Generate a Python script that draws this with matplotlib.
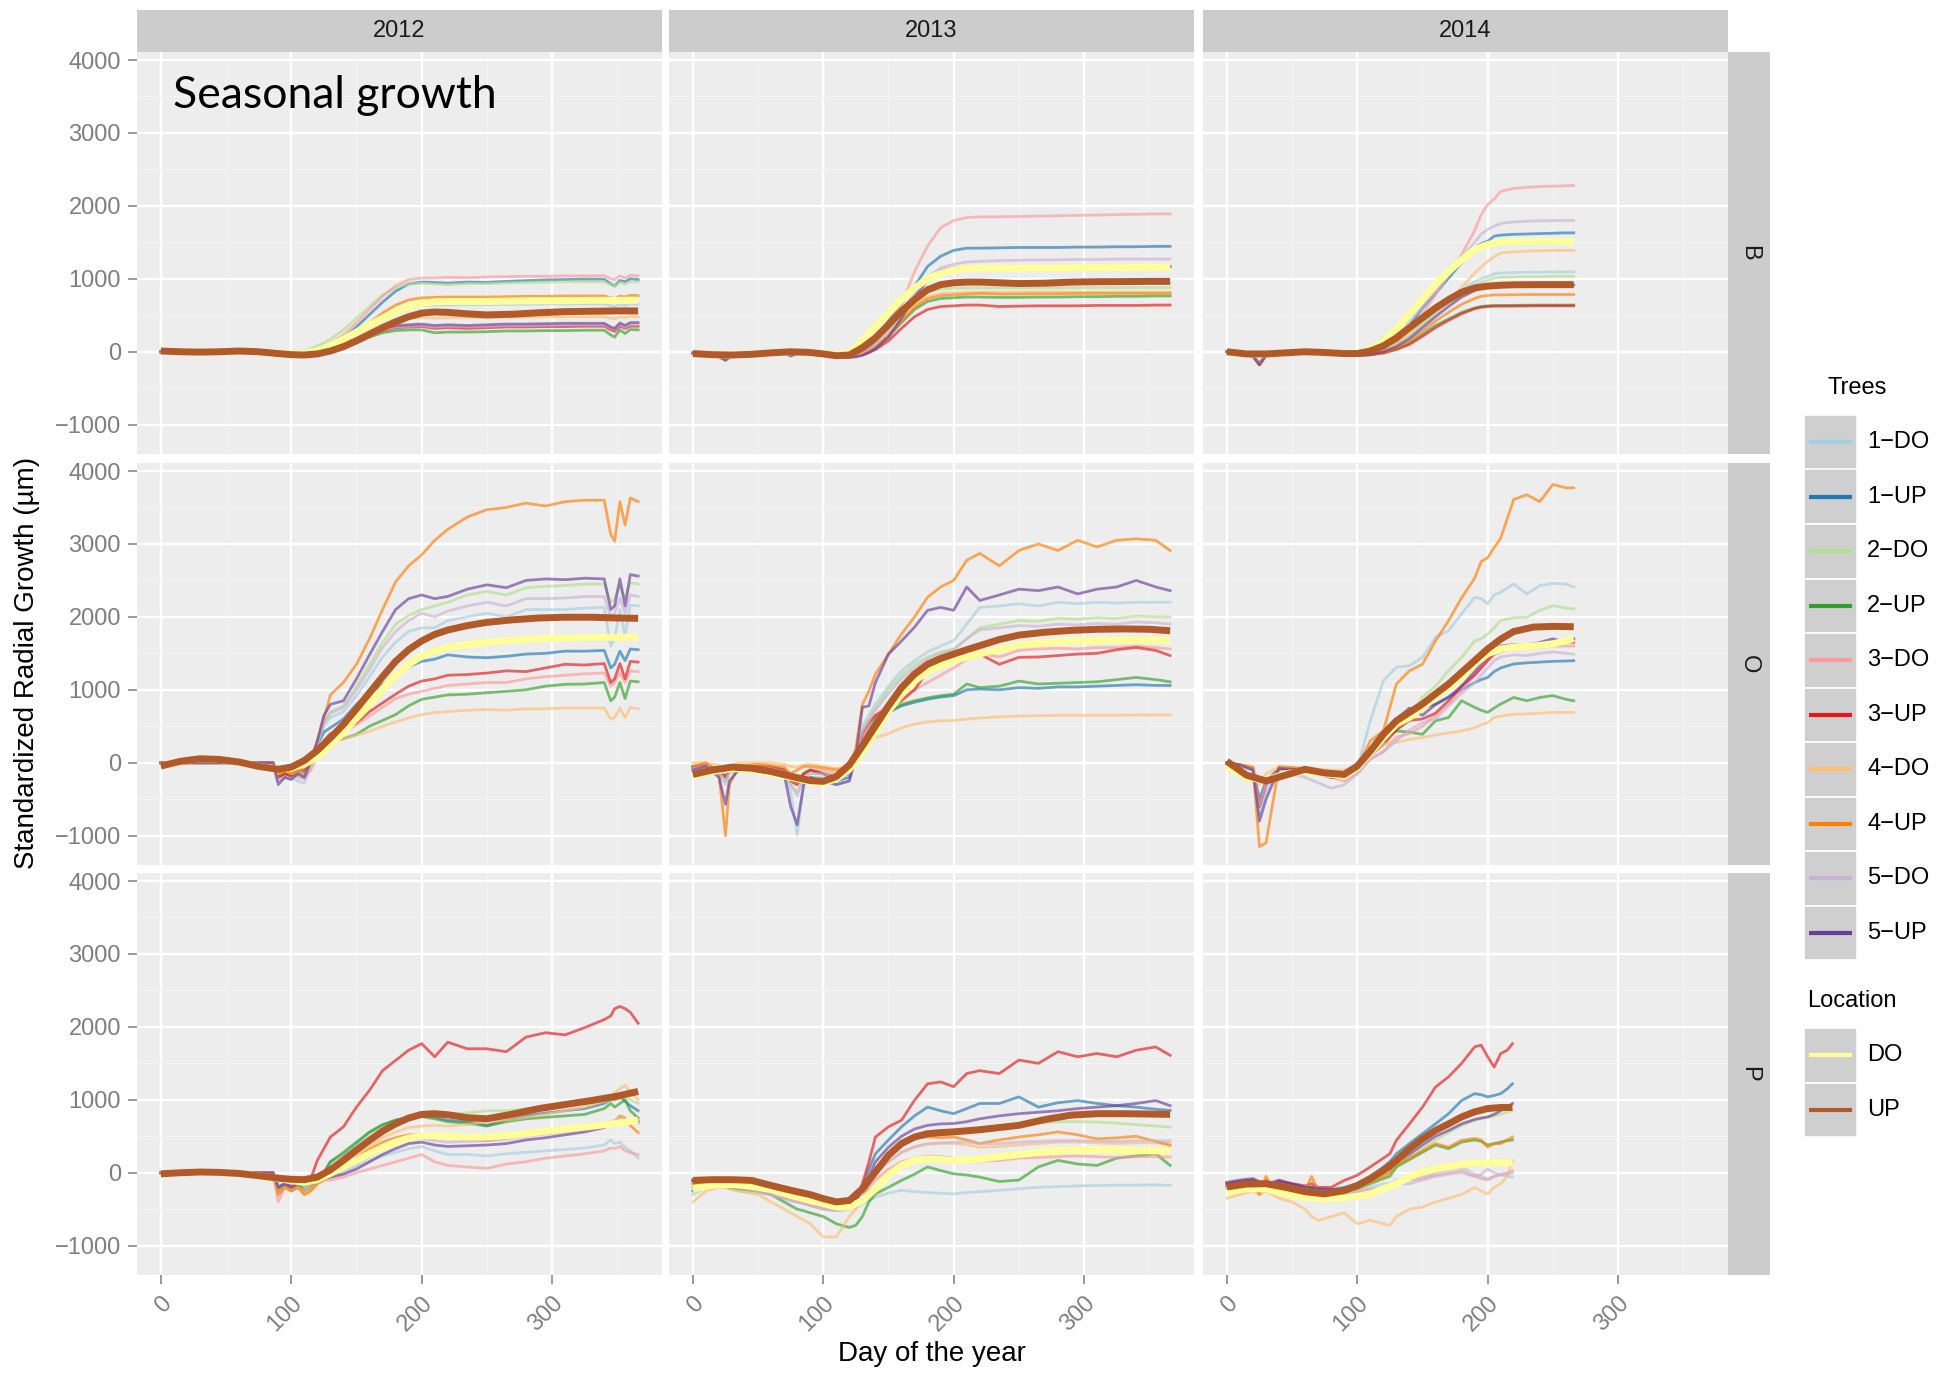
import matplotlib
matplotlib.use("Agg")
import matplotlib.pyplot as plt
from matplotlib.patches import Rectangle
from matplotlib.lines import Line2D

# ---------------------------------------------------------------- categories
years = ["2012", "2013", "2014"]
sites = ["B", "O", "P"]
tree_labels = ["1-DO", "1-UP", "2-DO", "2-UP", "3-DO", "3-UP", "4-DO", "4-UP", "5-DO", "5-UP"]
tree_colors = ["#A6CEE3", "#1F78B4", "#B2DF8A", "#33A02C", "#FB9A99",
               "#E31A1C", "#FDBF6F", "#FF7F00", "#CAB2D6", "#6A3D9A"]
location_labels = ["DO", "UP"]
location_colors = ["#FFFF99", "#B15928"]

x_ticks = [0, 100, 200, 300]
y_ticks = [-1000, 0, 1000, 2000, 3000, 4000]

# ---------------------------------------------------------------- day grids
days_2012 = [0, 86, 90, 95, 100, 105, 110, 115, 120, 125, 130, 140, 150, 160, 170, 180, 190,
             200, 210, 220, 235, 250, 265, 280, 295, 310, 325, 340, 345, 348, 352, 356, 360, 366]
days_2013 = [0, 10, 20, 25, 28, 35, 50, 60, 70, 75, 80, 85, 90, 100, 110, 120, 125, 130, 135,
             140, 150, 160, 170, 180, 190, 200, 210, 220, 235, 250, 265, 280, 295, 310, 325,
             340, 355, 366]
days_2014 = [0, 10, 20, 25, 30, 40, 60, 80, 90, 100, 110, 120, 130, 140, 150, 160, 170, 180,
             190, 195, 200, 205, 210, 220, 230, 240, 250, 260, 266]
days_2014_P = [0, 10, 20, 25, 30, 35, 40, 50, 60, 65, 70, 80, 90, 100, 110, 120, 125, 130,
               140, 150, 160, 170, 180, 190, 195, 200, 205, 210, 215, 219]

smooth_days_full = [0, 15, 30, 45, 60, 75, 90, 100, 110, 120, 130, 140, 150, 160, 170, 180,
                    190, 200, 210, 220, 235, 250, 270, 290, 310, 330, 350, 366]
smooth_days_2014 = [0, 15, 30, 45, 60, 75, 90, 100, 110, 120, 130, 140, 150, 160, 170, 180,
                    190, 200, 210, 220, 235, 250, 266]
smooth_days_2014_P = [0, 15, 30, 45, 60, 75, 90, 100, 110, 120, 130, 140, 150, 160, 170, 180,
                      190, 200, 210, 219]

# ---------------------------------------------------------------- site B
B_2012 = {
    "1-DO": [0, 0, -10, -20, -30, -30, -30, -20, 0, 20, 50, 130, 250, 370, 480, 570, 620, 640, 640, 640, 645, 645, 650, 650, 655, 655, 655, 655, 630, 620, 650, 635, 655, 650],
    "1-UP": [0, 0, -10, -20, -30, -30, -30, -20, 0, 30, 70, 180, 340, 510, 680, 830, 930, 955, 950, 940, 955, 950, 965, 975, 985, 990, 995, 995, 930, 900, 980, 960, 1000, 990],
    "2-DO": [0, 0, -10, -20, -20, -10, 10, 40, 80, 120, 170, 300, 460, 620, 780, 880, 930, 940, 930, 920, 935, 935, 945, 950, 955, 960, 960, 960, 920, 900, 950, 930, 960, 955],
    "2-UP": [0, 0, -10, -30, -50, -60, -60, -50, -40, -20, 10, 50, 120, 200, 260, 290, 300, 300, 260, 270, 270, 275, 285, 285, 290, 290, 295, 295, 230, 200, 300, 250, 305, 300],
    "3-DO": [0, 0, -10, -20, -30, -30, -20, -10, 20, 60, 110, 230, 400, 580, 760, 900, 990, 1010, 1010, 1020, 1015, 1025, 1030, 1035, 1035, 1040, 1040, 1045, 1000, 990, 1040, 1010, 1050, 1040],
    "3-UP": [0, 0, -10, -30, -50, -60, -60, -50, -30, -10, 20, 70, 150, 230, 290, 330, 340, 345, 320, 330, 320, 330, 340, 340, 345, 345, 350, 350, 300, 280, 350, 320, 350, 350],
    "4-DO": [0, 0, -10, -20, -30, -40, -40, -30, -10, 10, 30, 90, 180, 280, 360, 420, 455, 470, 460, 465, 470, 470, 475, 475, 480, 480, 480, 480, 460, 450, 480, 470, 485, 480],
    "4-UP": [0, 0, -10, -20, -30, -30, -30, -20, 0, 20, 50, 140, 270, 400, 530, 640, 710, 740, 745, 750, 750, 750, 755, 760, 760, 765, 765, 765, 740, 730, 765, 750, 775, 770],
    "5-DO": [0, 0, -10, -30, -50, -50, -50, -40, -20, 10, 40, 100, 180, 250, 300, 340, 350, 360, 340, 350, 345, 350, 360, 360, 365, 370, 370, 370, 330, 310, 370, 340, 375, 370],
    "5-UP": [0, 0, -10, -30, -50, -60, -60, -50, -30, 0, 30, 90, 180, 260, 320, 360, 370, 380, 360, 370, 360, 370, 380, 380, 385, 390, 390, 390, 340, 320, 395, 360, 400, 400],
}
B_2012_DO = [10, 0, -5, 0, 10, 0, -20, -30, -20, 10, 80, 170, 270, 370, 460, 550, 620, 665, 685, 690, 690, 690, 695, 700, 700, 705, 705, 705]
B_2012_UP = [10, 0, -5, 0, 10, 0, -25, -40, -45, -30, 10, 70, 150, 240, 330, 410, 480, 530, 545, 540, 520, 505, 515, 535, 550, 555, 560, 560]

B_2013 = {
    "1-DO": [-20, -40, -60, -100, -60, -40, -30, -20, -10, -40, -20, -20, -30, -50, -60, -60, -40, -10, 40, 100, 260, 480, 700, 860, 920, 930, 935, 935, 935, 938, 940, 940, 940, 940, 940, 940, 940, 940],
    "1-UP": [-20, -40, -60, -100, -60, -40, -30, -20, -10, -40, -20, -20, -30, -50, -60, -60, -40, -10, 60, 150, 420, 660, 900, 1170, 1310, 1390, 1420, 1420, 1425, 1430, 1430, 1430, 1435, 1435, 1440, 1440, 1445, 1445],
    "2-DO": [-20, -40, -60, -100, -60, -40, -30, -20, -10, -40, -20, -20, -30, -50, -50, -40, -10, 40, 110, 180, 350, 540, 720, 820, 860, 870, 875, 875, 875, 875, 878, 878, 880, 880, 880, 880, 880, 880],
    "2-UP": [-20, -40, -60, -100, -60, -40, -30, -20, -10, -40, -20, -20, -30, -50, -60, -60, -40, -20, 20, 70, 210, 400, 580, 690, 730, 740, 750, 750, 745, 745, 750, 750, 755, 755, 760, 760, 765, 765],
    "3-DO": [-20, -40, -60, -100, -60, -40, -30, -20, -10, -40, -20, -20, -30, -50, -60, -50, -20, 20, 100, 200, 380, 650, 1100, 1450, 1700, 1800, 1840, 1850, 1850, 1855, 1860, 1865, 1870, 1875, 1880, 1885, 1890, 1890],
    "3-UP": [-20, -40, -60, -100, -60, -40, -30, -20, -10, -40, -20, -20, -30, -50, -60, -70, -60, -40, -10, 30, 150, 320, 480, 580, 620, 630, 640, 640, 620, 625, 630, 630, 630, 635, 635, 635, 640, 640],
    "4-DO": [-20, -40, -60, -100, -60, -40, -30, -20, -10, -40, -20, -20, -30, -50, -60, -60, -40, -20, 20, 80, 240, 450, 640, 760, 800, 810, 815, 815, 815, 818, 820, 820, 820, 820, 820, 820, 820, 820],
    "4-UP": [-20, -40, -60, -100, -60, -40, -30, -20, -10, -40, -20, -20, -30, -50, -60, -60, -40, -20, 20, 70, 220, 420, 610, 730, 770, 780, 790, 800, 790, 790, 795, 795, 800, 800, 800, 800, 800, 800],
    "5-DO": [-20, -40, -60, -100, -60, -40, -30, -20, -10, -40, -20, -20, -30, -50, -60, -60, -40, -10, 40, 100, 290, 540, 800, 1020, 1150, 1200, 1230, 1240, 1250, 1255, 1260, 1260, 1265, 1265, 1270, 1270, 1270, 1270],
    "5-UP": [-20, -40, -70, -120, -80, -40, -30, -20, -10, -60, -30, -20, -30, -50, -70, -80, -70, -50, -10, 40, 200, 460, 750, 980, 1110, 1150, 1160, 1160, 1165, 1165, 1165, 1170, 1170, 1170, 1170, 1170, 1170, 1170],
}
B_2013_DO = [-25, -40, -45, -35, -15, 0, -10, -25, -40, -15, 145, 350, 530, 715, 875, 1000, 1075, 1120, 1140, 1145, 1145, 1145, 1148, 1150, 1152, 1155, 1158, 1160]
B_2013_UP = [-25, -40, -45, -35, -15, 0, -10, -30, -55, -45, 55, 190, 370, 555, 715, 850, 920, 945, 955, 955, 945, 935, 940, 955, 960, 962, 965, 965]

B_2014 = {
    "1-DO": [0, -30, -60, -150, -50, -30, -10, -20, -30, -30, -20, 20, 100, 220, 380, 540, 700, 850, 960, 1000, 1030, 1070, 1080, 1085, 1090, 1090, 1095, 1095, 1095],
    "1-UP": [0, -30, -60, -170, -50, -30, -10, -20, -30, -30, -10, 60, 145, 350, 600, 800, 1010, 1220, 1425, 1480, 1515, 1585, 1600, 1610, 1615, 1620, 1625, 1630, 1630],
    "2-DO": [0, -30, -60, -150, -50, -30, -10, -20, -30, -30, -20, 20, 100, 220, 370, 520, 670, 800, 910, 950, 980, 1010, 1020, 1025, 1030, 1030, 1035, 1035, 1035],
    "2-UP": [0, -30, -60, -180, -50, -30, -10, -20, -40, -50, -40, -10, 40, 120, 240, 360, 450, 540, 600, 620, 630, 635, 635, 636, 638, 640, 640, 640, 640],
    "3-DO": [0, -30, -60, -160, -50, -30, -10, -20, -30, -30, -20, 30, 130, 300, 520, 780, 1060, 1330, 1660, 1880, 2020, 2090, 2200, 2240, 2255, 2265, 2270, 2275, 2280],
    "3-UP": [0, -30, -60, -180, -50, -30, -10, -20, -40, -50, -40, -20, 30, 100, 210, 330, 430, 520, 590, 610, 620, 625, 625, 626, 628, 630, 630, 630, 630],
    "4-DO": [0, -30, -60, -150, -50, -30, -10, -20, -30, -30, -20, 30, 120, 250, 420, 560, 695, 880, 1080, 1160, 1240, 1300, 1355, 1370, 1380, 1385, 1390, 1390, 1390],
    "4-UP": [0, -30, -60, -170, -50, -30, -10, -20, -40, -50, -40, -10, 50, 150, 280, 420, 540, 650, 730, 760, 770, 780, 780, 782, 784, 785, 785, 785, 785],
    "5-DO": [0, -30, -60, -150, -50, -30, -10, -20, -30, -20, 40, 190, 300, 420, 620, 830, 1060, 1290, 1500, 1610, 1680, 1720, 1760, 1780, 1790, 1795, 1798, 1800, 1800],
    "5-UP": [0, -30, -60, -170, -50, -30, -10, -20, -40, -50, -40, 0, 70, 180, 330, 480, 620, 750, 840, 870, 890, 900, 905, 910, 910, 912, 915, 915, 915],
}
B_2014_DO = [0, -30, -30, -15, 0, -10, -25, -20, 30, 145, 305, 510, 715, 920, 1100, 1260, 1400, 1470, 1505, 1512, 1515, 1515, 1515]
B_2014_UP = [0, -30, -30, -15, 0, -10, -25, -25, 10, 80, 190, 330, 465, 600, 715, 815, 875, 900, 912, 918, 920, 920, 920]

# ---------------------------------------------------------------- site O
O_2012 = {
    "1-DO": [0, 0, -200, -150, -200, -250, -280, -50, 200, 500, 620, 700, 920, 1180, 1450, 1650, 1800, 1850, 1850, 1950, 2000, 2050, 2000, 2100, 2100, 2100, 2120, 2130, 1600, 1700, 2100, 1750, 2160, 2150],
    "1-UP": [0, 0, -150, -100, -150, -120, -150, 0, 250, 420, 480, 600, 800, 950, 1070, 1200, 1320, 1390, 1420, 1480, 1450, 1440, 1460, 1490, 1500, 1530, 1530, 1540, 1300, 1350, 1530, 1400, 1560, 1550],
    "2-DO": [0, 0, -200, -180, -200, -150, -180, 0, 250, 550, 700, 780, 1050, 1350, 1650, 1900, 2020, 2100, 2150, 2200, 2300, 2350, 2300, 2400, 2420, 2430, 2450, 2450, 2200, 2250, 2430, 2250, 2470, 2450],
    "2-UP": [0, 0, -200, -150, -180, -150, -130, 0, 150, 280, 300, 330, 390, 500, 580, 660, 780, 870, 900, 930, 940, 960, 980, 1000, 1050, 1075, 1080, 1100, 850, 900, 1100, 880, 1120, 1110],
    "3-DO": [0, 0, -150, -120, -150, -200, -220, -100, 100, 250, 350, 420, 520, 640, 760, 880, 940, 980, 1020, 1060, 1080, 1100, 1100, 1150, 1180, 1200, 1220, 1230, 1050, 1100, 1230, 1100, 1260, 1250],
    "3-UP": [0, 0, -200, -150, -180, -120, -100, 0, 150, 300, 400, 450, 550, 700, 820, 940, 1050, 1120, 1150, 1200, 1210, 1230, 1260, 1250, 1300, 1350, 1340, 1360, 1100, 1150, 1360, 1150, 1390, 1380],
    "4-DO": [0, 0, -150, -100, -150, -120, -150, -50, 100, 230, 270, 330, 380, 430, 500, 560, 615, 660, 690, 700, 720, 730, 720, 740, 740, 750, 750, 750, 600, 620, 750, 620, 760, 740],
    "4-UP": [0, 0, -150, -120, -150, -100, -80, 50, 300, 600, 930, 1100, 1350, 1700, 2100, 2480, 2700, 2850, 3050, 3200, 3370, 3470, 3500, 3560, 3520, 3580, 3600, 3600, 3130, 3040, 3580, 3260, 3630, 3580],
    "5-DO": [0, 0, -250, -200, -220, -150, -200, -20, 250, 550, 680, 760, 1000, 1280, 1580, 1800, 1950, 2050, 2000, 2080, 2150, 2200, 2150, 2250, 2250, 2260, 2280, 2280, 2000, 2050, 2260, 2050, 2300, 2280],
    "5-UP": [0, 0, -300, -200, -230, -150, -200, 20, 300, 650, 800, 850, 1150, 1480, 1800, 2100, 2250, 2300, 2250, 2280, 2380, 2440, 2400, 2500, 2520, 2510, 2530, 2520, 2100, 2150, 2520, 2150, 2580, 2560],
}
O_2012_DO = [-45, 20, 55, 45, 10, -50, -85, -70, -20, 80, 240, 420, 610, 800, 1010, 1200, 1350, 1460, 1530, 1580, 1620, 1650, 1680, 1700, 1710, 1720, 1720, 1720]
O_2012_UP = [-45, 20, 55, 45, 10, -50, -90, -60, 30, 170, 340, 525, 740, 960, 1180, 1390, 1550, 1670, 1760, 1820, 1880, 1925, 1960, 1985, 1995, 1995, 1985, 1980]

O_2013 = {
    "1-DO": [-100, -50, -150, -300, -150, -100, -80, -100, -150, -400, -990, -300, -200, -200, -300, -250, 50, 500, 650, 800, 1050, 1260, 1400, 1520, 1600, 1675, 1900, 2130, 2150, 2180, 2150, 2200, 2180, 2200, 2190, 2200, 2200, 2200],
    "1-UP": [-60, -30, -100, -200, -100, -60, -50, -60, -100, -200, -250, -150, -100, -150, -250, -200, 50, 300, 450, 600, 690, 780, 830, 870, 900, 920, 1000, 1010, 1000, 1030, 1020, 1040, 1040, 1050, 1060, 1070, 1060, 1060],
    "2-DO": [-80, -40, -120, -250, -120, -80, -60, -80, -120, -300, -400, -200, -150, -150, -200, -150, 50, 450, 600, 750, 1000, 1200, 1350, 1450, 1520, 1560, 1700, 1850, 1900, 1950, 1940, 1980, 1970, 1990, 1980, 2010, 2000, 2000],
    "2-UP": [-60, -30, -100, -200, -100, -60, -50, -60, -100, -200, -250, -150, -100, -150, -200, -150, 50, 300, 450, 620, 700, 800, 850, 890, 920, 940, 1080, 1030, 1050, 1120, 1080, 1090, 1100, 1110, 1140, 1170, 1140, 1110],
    "3-DO": [-60, -30, -100, -200, -100, -60, -50, -60, -100, -250, -300, -150, -100, -100, -150, -100, 50, 350, 500, 650, 800, 900, 1000, 1100, 1200, 1300, 1420, 1500, 1450, 1540, 1560, 1570, 1560, 1580, 1580, 1600, 1580, 1560],
    "3-UP": [-60, -30, -100, -200, -100, -60, -50, -60, -100, -250, -300, -150, -100, -150, -200, -150, 50, 400, 550, 650, 750, 850, 1000, 1260, 1330, 1400, 1450, 1490, 1350, 1445, 1450, 1470, 1490, 1500, 1550, 1580, 1540, 1470],
    "4-DO": [0, 0, -30, -100, -50, 0, 0, 0, -20, -50, -60, -30, -20, -50, -80, -50, 50, 250, 300, 345, 400, 480, 530, 560, 575, 580, 600, 615, 630, 640, 645, 650, 650, 650, 650, 655, 655, 655],
    "4-UP": [-50, 0, -150, -1000, -300, -50, -20, -40, -60, -150, -100, -50, -50, -70, -100, -50, 200, 800, 980, 1215, 1490, 1765, 2000, 2270, 2410, 2500, 2775, 2870, 2700, 2910, 3000, 2910, 3050, 2960, 3050, 3070, 3050, 2910],
    "5-DO": [-80, -40, -120, -250, -120, -80, -60, -80, -120, -300, -450, -200, -150, -150, -200, -150, 50, 420, 580, 720, 950, 1150, 1300, 1420, 1500, 1550, 1700, 1820, 1850, 1880, 1870, 1900, 1890, 1910, 1900, 1930, 1920, 1900],
    "5-UP": [-100, -50, -200, -570, -250, -100, -80, -100, -150, -600, -850, -300, -200, -250, -300, -250, 100, 760, 780, 1100, 1490, 1670, 1860, 2090, 2130, 2090, 2410, 2225, 2300, 2380, 2360, 2410, 2315, 2380, 2410, 2500, 2410, 2360],
}
O_2013_DO = [-185, -120, -80, -95, -140, -200, -260, -275, -220, -90, 140, 435, 710, 940, 1120, 1250, 1335, 1400, 1450, 1490, 1555, 1610, 1650, 1670, 1678, 1680, 1680, 1680]
O_2013_UP = [-160, -100, -60, -75, -120, -185, -245, -255, -190, -30, 230, 505, 780, 1030, 1215, 1350, 1430, 1490, 1550, 1605, 1690, 1750, 1790, 1815, 1830, 1835, 1830, 1810]

O_2014 = {
    "1-DO": [0, -30, -80, -700, -400, -80, -100, -200, -200, -80, 575, 1125, 1310, 1330, 1445, 1720, 1810, 2040, 2270, 2250, 2180, 2300, 2340, 2450, 2315, 2430, 2460, 2450, 2410],
    "1-UP": [0, -30, -80, -500, -250, -80, -100, -150, -150, -50, 100, 350, 500, 600, 760, 800, 900, 1000, 1100, 1140, 1170, 1250, 1300, 1355, 1370, 1380, 1390, 1395, 1400],
    "2-DO": [0, -30, -80, -600, -300, -80, -100, -200, -200, -100, 150, 300, 450, 600, 900, 1050, 1260, 1445, 1670, 1700, 1765, 1850, 1950, 1990, 1995, 2090, 2155, 2120, 2110],
    "2-UP": [0, -30, -80, -600, -300, -80, -100, -150, -150, -50, 150, 345, 435, 420, 390, 575, 620, 850, 760, 720, 690, 750, 805, 895, 850, 895, 920, 870, 850],
    "3-DO": [0, -30, -80, -600, -300, -80, -100, -200, -250, -150, 50, 150, 350, 400, 500, 650, 800, 1000, 1200, 1300, 1400, 1480, 1520, 1560, 1570, 1580, 1600, 1600, 1600],
    "3-UP": [0, -30, -80, -600, -300, -80, -100, -200, -200, -100, 100, 250, 450, 580, 600, 680, 850, 1050, 1200, 1300, 1400, 1500, 1580, 1600, 1620, 1640, 1650, 1660, 1650],
    "4-DO": [0, -30, -60, -300, -150, -60, -80, -100, -100, -50, 100, 250, 280, 320, 345, 380, 410, 435, 480, 520, 550, 620, 640, 665, 670, 680, 690, 690, 690],
    "4-UP": [0, -30, -60, -1150, -1100, -50, -80, -150, -150, -50, 300, 435, 1080, 1260, 1350, 1670, 1950, 2260, 2530, 2760, 2810, 2950, 3080, 3610, 3675, 3580, 3815, 3770, 3770],
    "5-DO": [0, -50, -100, -600, -300, -100, -200, -350, -300, -150, 50, 150, 300, 450, 550, 600, 780, 950, 1100, 1200, 1300, 1400, 1450, 1480, 1470, 1500, 1520, 1500, 1490],
    "5-UP": [0, -30, -100, -800, -500, -80, -100, -200, -200, -100, 100, 300, 600, 750, 650, 800, 900, 1050, 1250, 1350, 1450, 1550, 1600, 1620, 1600, 1650, 1700, 1650, 1700],
}
O_2014_DO = [-45, -200, -245, -150, -115, -150, -185, -70, 135, 345, 530, 620, 760, 900, 1035, 1170, 1355, 1495, 1560, 1585, 1600, 1630, 1700]
O_2014_UP = [20, -170, -250, -170, -90, -140, -160, -45, 160, 390, 575, 690, 805, 945, 1080, 1240, 1400, 1560, 1695, 1800, 1860, 1870, 1865]

# ---------------------------------------------------------------- site P
P_2012 = {
    "1-DO": [0, 0, -200, -150, -200, -150, -150, -120, -100, -80, -60, 0, 80, 160, 230, 280, 330, 360, 300, 250, 250, 230, 260, 280, 300, 320, 340, 380, 450, 400, 420, 350, 300, 200],
    "1-UP": [0, 0, -200, -150, -250, -150, -200, -150, -100, 0, 150, 250, 400, 550, 650, 720, 760, 780, 760, 720, 700, 650, 720, 780, 820, 850, 880, 950, 1000, 1000, 1050, 980, 920, 850],
    "2-DO": [0, 0, -200, -150, -200, -150, -200, -150, -100, 0, 120, 260, 400, 540, 640, 700, 760, 800, 820, 800, 820, 850, 850, 880, 900, 920, 940, 980, 1000, 1000, 1020, 1050, 1000, 950],
    "2-UP": [0, 0, -250, -150, -200, -150, -250, -200, -100, 0, 150, 280, 420, 560, 660, 720, 760, 770, 740, 700, 680, 640, 700, 740, 760, 780, 800, 880, 950, 900, 950, 1000, 850, 750],
    "3-DO": [0, 0, -400, -200, -250, -200, -250, -200, -150, -100, -100, -60, 0, 50, 100, 150, 200, 250, 150, 100, 80, 60, 120, 150, 200, 230, 260, 300, 340, 330, 360, 300, 280, 250],
    "3-UP": [0, 0, -200, -150, -180, -150, -120, -80, 170, 330, 490, 630, 900, 1130, 1400, 1540, 1680, 1770, 1590, 1790, 1700, 1700, 1660, 1860, 1920, 1890, 1990, 2100, 2150, 2250, 2280, 2250, 2200, 2050],
    "4-DO": [0, 0, -300, -200, -250, -200, -300, -250, -150, -100, 0, 100, 220, 360, 480, 560, 620, 640, 650, 640, 660, 700, 720, 760, 800, 850, 900, 980, 1050, 1100, 1150, 1200, 1100, 1000],
    "4-UP": [0, 0, -300, -200, -250, -200, -300, -250, -150, -100, 0, 80, 200, 320, 420, 480, 520, 520, 500, 480, 460, 440, 480, 520, 560, 580, 600, 650, 700, 700, 780, 750, 650, 550],
    "5-DO": [0, 0, -200, -150, -200, -150, -150, -120, -100, -60, -20, 40, 120, 220, 320, 400, 450, 470, 440, 420, 430, 440, 460, 500, 530, 560, 600, 650, 700, 720, 740, 720, 700, 680],
    "5-UP": [0, 0, -200, -150, -200, -150, -150, -120, -100, -80, -60, -20, 50, 150, 250, 330, 400, 420, 380, 360, 370, 380, 400, 450, 480, 520, 560, 620, 680, 700, 700, 680, 720, 700],
}
P_2012_DO = [-15, 0, 10, 5, -10, -40, -80, -110, -130, -95, -10, 80, 170, 260, 345, 420, 475, 505, 510, 500, 490, 490, 515, 560, 600, 635, 680, 720]
P_2012_UP = [-15, 0, 10, 5, -10, -40, -75, -90, -95, -60, 40, 170, 310, 445, 570, 670, 750, 800, 810, 795, 755, 740, 805, 880, 935, 990, 1050, 1115]

P_2013 = {
    "1-DO": [-300, -200, -180, -200, -220, -250, -280, -300, -350, -380, -400, -420, -450, -480, -500, -500, -480, -420, -380, -335, -280, -240, -260, -270, -280, -290, -270, -260, -240, -220, -200, -190, -180, -175, -170, -170, -165, -175],
    "1-UP": [-120, -100, -100, -110, -120, -130, -150, -170, -220, -250, -280, -300, -320, -380, -420, -420, -380, -200, 50, 260, 450, 630, 780, 900, 850, 810, 880, 950, 950, 1040, 900, 960, 990, 950, 920, 900, 870, 855],
    "2-DO": [-150, -120, -130, -150, -160, -170, -200, -250, -300, -330, -360, -380, -400, -450, -480, -480, -450, -350, -150, 50, 250, 400, 500, 560, 580, 590, 600, 620, 640, 660, 680, 700, 700, 695, 680, 660, 640, 625],
    "2-UP": [-250, -150, -150, -180, -200, -220, -250, -300, -400, -450, -500, -520, -550, -600, -700, -750, -720, -600, -400, -290, -200, -105, -20, 80, 30, -15, -30, -60, -120, -100, 80, 170, 120, 100, 200, 230, 260, 100],
    "3-DO": [-200, -150, -150, -160, -180, -200, -250, -300, -350, -380, -400, -420, -450, -500, -520, -500, -450, -350, -200, -100, 50, 150, 200, 230, 220, 200, 180, 160, 170, 200, 210, 220, 230, 220, 210, 220, 220, 215],
    "3-UP": [-100, -80, -90, -100, -110, -120, -130, -150, -200, -220, -250, -280, -300, -350, -380, -400, -350, -150, 150, 490, 630, 720, 995, 1220, 1245, 1180, 1360, 1400, 1360, 1545, 1500, 1660, 1590, 1635, 1590, 1680, 1725, 1610],
    "4-DO": [-400, -250, -200, -200, -220, -250, -300, -400, -500, -550, -600, -650, -700, -880, -880, -600, -500, -350, -150, 0, 150, 280, 350, 390, 400, 400, 380, 350, 360, 380, 400, 420, 420, 410, 400, 410, 410, 400],
    "4-UP": [-150, -120, -130, -150, -160, -180, -200, -250, -300, -330, -360, -380, -400, -450, -480, -480, -450, -350, -150, 50, 250, 400, 480, 490, 480, 490, 450, 400, 450, 490, 520, 560, 520, 465, 480, 500, 430, 375],
    "5-DO": [-200, -150, -150, -160, -180, -200, -250, -300, -350, -380, -400, -420, -450, -500, -520, -500, -450, -350, -150, 0, 150, 280, 360, 400, 410, 420, 420, 400, 400, 420, 430, 440, 440, 435, 430, 440, 440, 435],
    "5-UP": [-100, -80, -90, -100, -110, -120, -150, -180, -220, -250, -280, -300, -320, -350, -380, -400, -380, -250, -50, 150, 350, 500, 600, 650, 670, 675, 700, 740, 780, 810, 830, 850, 880, 900, 920, 950, 990, 920],
}
P_2013_DO = [-220, -170, -160, -185, -230, -310, -380, -420, -470, -470, -380, -220, -35, 100, 170, 190, 180, 170, 180, 190, 220, 250, 290, 310, 315, 305, 300, 300]
P_2013_UP = [-105, -95, -95, -105, -175, -240, -300, -355, -400, -380, -220, 10, 240, 400, 490, 535, 550, 560, 575, 590, 620, 650, 730, 790, 810, 810, 805, 800]

P_2014 = {
    "1-DO": [-180, -160, -140, -180, -220, -200, -200, -250, -300, -300, -320, -300, -280, -250, -200, -150, -150, -100, -80, -50, 0, 50, 80, -20, -50, -80, -50, -30, -50, -60],
    "1-UP": [-150, -120, -100, -150, -180, -150, -120, -160, -200, -200, -220, -230, -200, -150, -50, 80, 150, 260, 400, 535, 670, 810, 990, 1085, 1070, 1040, 1060, 1085, 1150, 1220],
    "2-DO": [-180, -150, -130, -170, -200, -180, -150, -200, -230, -250, -260, -260, -250, -200, -120, -50, 0, 100, 200, 330, 450, 550, 650, 720, 740, 760, 780, 800, 830, 855],
    "2-UP": [-180, -150, -130, -200, -100, -180, -200, -230, -280, -200, -300, -300, -260, -220, -150, -80, -50, 80, 180, 280, 380, 330, 420, 450, 430, 380, 400, 420, 440, 450],
    "3-DO": [-200, -180, -150, -200, -250, -230, -220, -280, -320, -330, -330, -320, -300, -260, -230, -200, -180, -120, -100, -80, -30, 0, 30, -50, -80, -100, -50, -20, 0, 30],
    "3-UP": [-150, -120, -100, -150, -200, -150, -120, -150, -180, -150, -200, -200, -105, -35, 80, 200, 260, 445, 670, 900, 1175, 1315, 1500, 1725, 1750, 1590, 1450, 1635, 1680, 1770],
    "4-DO": [-350, -300, -250, -300, -250, -300, -350, -400, -500, -600, -655, -600, -550, -700, -650, -700, -725, -600, -500, -470, -400, -350, -300, -200, -250, -290, -200, -150, -50, 170],
    "4-UP": [-200, -150, -150, -300, -50, -200, -250, -200, -250, -50, -250, -260, -250, -200, -130, -50, 0, 120, 200, 300, 400, 350, 445, 470, 450, 350, 400, 400, 450, 490],
    "5-DO": [-200, -180, -150, -200, -250, -250, -250, -300, -350, -350, -350, -330, -300, -280, -250, -200, -180, -150, -150, -100, -50, -20, 0, -50, -20, 50, 0, -30, -20, 0],
    "5-UP": [-130, -100, -80, -120, -150, -130, -100, -150, -200, -200, -220, -230, -220, -180, -80, 0, 50, 150, 250, 380, 500, 580, 670, 730, 750, 765, 800, 850, 900, 950],
}
P_2014_DO = [-265, -220, -220, -290, -340, -350, -345, -325, -290, -220, -150, -60, 10, 55, 85, 115, 135, 140, 138, 135]
P_2014_UP = [-195, -155, -150, -200, -260, -290, -245, -175, -80, 30, 170, 330, 465, 580, 670, 765, 835, 880, 895, 895]

panel_data = {
    ("B", "2012"): (days_2012, B_2012, smooth_days_full, B_2012_DO, B_2012_UP),
    ("B", "2013"): (days_2013, B_2013, smooth_days_full, B_2013_DO, B_2013_UP),
    ("B", "2014"): (days_2014, B_2014, smooth_days_2014, B_2014_DO, B_2014_UP),
    ("O", "2012"): (days_2012, O_2012, smooth_days_full, O_2012_DO, O_2012_UP),
    ("O", "2013"): (days_2013, O_2013, smooth_days_full, O_2013_DO, O_2013_UP),
    ("O", "2014"): (days_2014, O_2014, smooth_days_2014, O_2014_DO, O_2014_UP),
    ("P", "2012"): (days_2012, P_2012, smooth_days_full, P_2012_DO, P_2012_UP),
    ("P", "2013"): (days_2013, P_2013, smooth_days_full, P_2013_DO, P_2013_UP),
    ("P", "2014"): (days_2014_P, P_2014, smooth_days_2014_P, P_2014_DO, P_2014_UP),
}

# ---------------------------------------------------------------- figure
W, H = 1952, 1373
fig = plt.figure(figsize=(W / 100, H / 100), dpi=100)
fig.patch.set_facecolor("white")

AXIS_FONT = "Liberation Sans"
GREY_TEXT = "#7F7F7F"
PANEL_BG = "#EDEDED"
STRIP_BG = "#CCCCCC"
TEXT_SIZE = 17


def fx(px):
    return px / W


def fy(py):
    return 1 - py / H


col_left = [137, 669, 1203]
row_top = [52, 463, 873]
panel_w = 525
panel_h = 402

for r, site in enumerate(sites):
    for c, year in enumerate(years):
        ax = fig.add_axes([fx(col_left[c]), fy(row_top[r] + panel_h), panel_w / W, panel_h / H])
        ax.set_facecolor(PANEL_BG)
        for s in ax.spines.values():
            s.set_visible(False)
        ax.set_xlim(-18.3, 384.3)
        ax.set_ylim(-1402, 4110)
        ax.set_xticks(x_ticks)
        ax.set_yticks(y_ticks)
        ax.set_xticks([50, 150, 250, 350], minor=True)
        ax.set_yticks([-500, 500, 1500, 2500, 3500], minor=True)
        ax.set_axisbelow(True)
        ax.grid(which="major", color="white", lw=1.7)
        ax.grid(which="minor", color="#F4F4F4", lw=0.8)
        ax.tick_params(which="minor", length=0)
        ax.tick_params(which="major", length=6.5, width=1.1, color=GREY_TEXT,
                       labelsize=TEXT_SIZE, labelcolor=GREY_TEXT)
        ax.tick_params(axis="y", pad=5)

        if c == 0:
            ax.set_yticklabels([f"{v}".replace("-", "\u2212") for v in y_ticks],
                               fontfamily=AXIS_FONT)
        else:
            ax.tick_params(axis="y", left=False, labelleft=False)
        if r == 2:
            ax.set_xticklabels([str(v) for v in x_ticks], rotation=45, ha="right",
                               va="top", rotation_mode="anchor", fontfamily=AXIS_FONT)
            ax.tick_params(axis="x", pad=6)
        else:
            ax.tick_params(axis="x", bottom=False, labelbottom=False)

        days, trees, sdays, do_vals, up_vals = panel_data[(site, year)]
        for lab, col in zip(tree_labels, tree_colors):
            ax.plot(days, trees[lab], color=col, lw=2.0, alpha=0.65, zorder=3,
                    solid_joinstyle="round")
        ax.plot(sdays, do_vals, color=location_colors[0], lw=5, zorder=4,
                solid_capstyle="butt", solid_joinstyle="round")
        ax.plot(sdays, up_vals, color=location_colors[1], lw=5, zorder=5,
                solid_capstyle="butt", solid_joinstyle="round")

# column strips (years)
for c, year in enumerate(years):
    fig.patches.append(Rectangle((fx(col_left[c]), fy(52)), panel_w / W, 42 / H,
                                 transform=fig.transFigure, facecolor=STRIP_BG,
                                 edgecolor="none", zorder=1))
    fig.text(fx(col_left[c] + panel_w / 2), fy(31), year, ha="center", va="center",
             fontsize=TEXT_SIZE, color="#1A1A1A", fontfamily=AXIS_FONT)

# row strips (sites)
for r, site in enumerate(sites):
    fig.patches.append(Rectangle((fx(1728), fy(row_top[r] + panel_h)), 42 / W, panel_h / H,
                                 transform=fig.transFigure, facecolor=STRIP_BG,
                                 edgecolor="none", zorder=1))
    fig.text(fx(1749), fy(row_top[r] + panel_h / 2), site, ha="center", va="center",
             rotation=270, fontsize=TEXT_SIZE, color="#1A1A1A", fontfamily=AXIS_FONT)

# axis titles
fig.text(fx(932), fy(1354), "Day of the year", ha="center", va="center",
         fontsize=20, color="black", fontfamily=AXIS_FONT)
fig.text(fx(27), fy(663), "Standardized Radial Growth (\u00b5m)", ha="center",
         va="center", rotation=90, fontsize=20, color="black", fontfamily=AXIS_FONT)

# panel annotation
fig.text(fx(173), fy(96), "Seasonal growth", ha="left", va="center",
         fontsize=32, color="black", fontfamily="Lato")


# legends
def draw_legend(title, title_x, title_y, labels, colors, top):
    fig.text(fx(title_x), fy(title_y), title, ha="left", va="center",
             fontsize=TEXT_SIZE, color="black", fontfamily=AXIS_FONT)
    key = 54.5
    for i, (lab, col) in enumerate(zip(labels, colors)):
        y0 = top + i * key
        fig.patches.append(Rectangle((fx(1804), fy(y0 + key)), 53 / W, key / H,
                                     transform=fig.transFigure, facecolor="#CFCFCF",
                                     edgecolor="white", lw=1.2, zorder=1))
        yc = y0 + key / 2
        fig.lines.append(Line2D([fx(1809), fx(1852)], [fy(yc), fy(yc)],
                                transform=fig.transFigure, color=col, lw=3,
                                solid_capstyle="butt", zorder=2))
        fig.text(fx(1867), fy(yc), lab.replace("-", "\u2212"), ha="left", va="center",
                 fontsize=TEXT_SIZE, color="black", fontfamily=AXIS_FONT)


draw_legend("Trees", 1828, 388, tree_labels, tree_colors, 415)
draw_legend("Location", 1807, 1001, location_labels, location_colors, 1028)

fig.savefig("out.png", dpi=100, facecolor="white")
